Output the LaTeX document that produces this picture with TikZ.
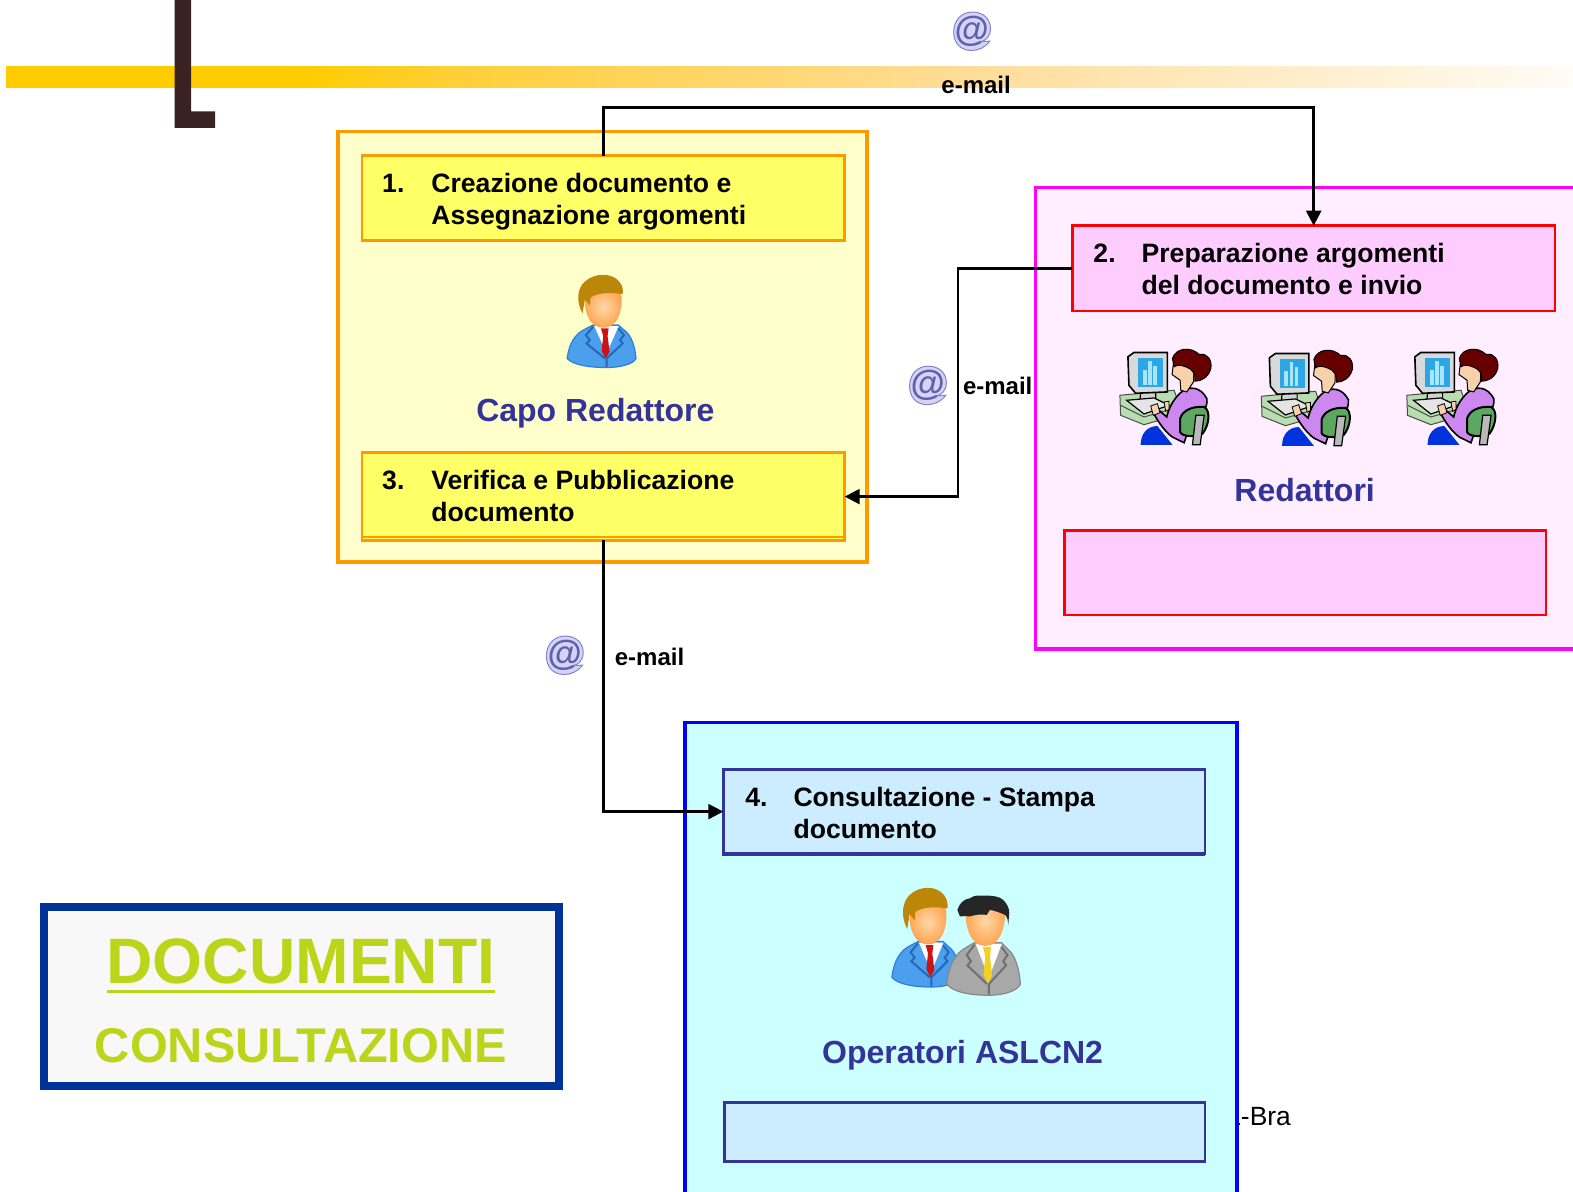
\documentclass[tikz,border=0pt]{standalone}
\usepackage{fontspec}
\setmainfont{Liberation Sans}
\usetikzlibrary{arrows.meta}
\def\px{0.5016pt}
\definecolor{orangeline}{HTML}{FF9900}
\definecolor{labelblue}{HTML}{333399}
\definecolor{lime}{HTML}{BBD61A}
\definecolor{hairbrown}{HTML}{BC8608}
\definecolor{bandgold}{HTML}{FFCC00}
\definecolor{bandmid}{HTML}{FFCF38}
\definecolor{bandpale}{HTML}{FFDD99}
\definecolor{bandend}{HTML}{FFFCF6}
\definecolor{ldark}{HTML}{3A2222}
\definecolor{capofill}{HTML}{FFFFCC}
\definecolor{magline}{HTML}{FF00FF}
\definecolor{redfill}{HTML}{FFEEFF}
\definecolor{opeline}{HTML}{0000FF}
\definecolor{opefill}{HTML}{CCFFFF}
\definecolor{yelbox}{HTML}{FFFF66}
\definecolor{pinkbox}{HTML}{FFCCFF}
\definecolor{bluebox}{HTML}{CCECFF}
\definecolor{docline}{HTML}{003399}
\definecolor{docfill}{HTML}{F8F8F8}
\definecolor{faceinner}{HTML}{FFD8A8}
\definecolor{faceouter}{HTML}{FFA450}
\definecolor{deskgreen}{HTML}{B8DDB0}
\definecolor{screenblue}{HTML}{2CA6E4}
\definecolor{barblue}{HTML}{A6E6FF}
\definecolor{legblue}{HTML}{0033DD}
\definecolor{sweater}{HTML}{CC88EE}
\definecolor{skin}{HTML}{F7D0AC}
\definecolor{hairred}{HTML}{660000}
\definecolor{chairgreen}{HTML}{5CA860}
\definecolor{atlight}{HTML}{D4D4F6}
\definecolor{atedge}{HTML}{8484C8}
\definecolor{atdark}{HTML}{6060AC}
\definecolor{jackblue}{HTML}{4C9FEC}
\definecolor{jackblueedge}{HTML}{2A7FDC}
\definecolor{tiered}{HTML}{CC1414}
\definecolor{lapelblue}{HTML}{2468B8}
\definecolor{jackgrey}{HTML}{A8A8A8}
\definecolor{jackgreyedge}{HTML}{888888}
\definecolor{tieyellow}{HTML}{F4D020}
\definecolor{lapelgrey}{HTML}{707070}
\pgfdeclarehorizontalshading{bandfade}{100bp}{color(0bp)=(bandgold); color(34.4bp)=(bandgold); color(39.35bp)=(bandmid); color(55.85bp)=(bandpale); color(75bp)=(bandend); color(100bp)=(bandend)}
\newcommand{\personbase}[4]{%
  \fill[#1,draw=#2,line width=1.2*\px] (82,295) .. controls (88,250) and (105,220) .. (140,205) -- (160,195) -- (235,195) -- (250,208) .. controls (275,225) and (285,260) .. (288,295) .. controls (280,312) and (240,322) .. (200,322) .. controls (150,322) and (100,315) .. (82,295) -- cycle;
  \fill[white] (163,198) -- (236,198) -- (200,280) -- cycle;
  \fill[#3] (183,205) -- (206,205) -- (203,228) -- (209,275) -- (197,295) -- (185,272) -- (190,228) -- cycle;
  \draw[#4,line width=2*\px] (160,200) -- (138,225) -- (150,240) -- (140,250) -- (195,295);
  \draw[#4,line width=2*\px] (235,205) -- (252,225) -- (240,240) -- (248,250) -- (200,295) -- (200,320);
  \shade[inner color=faceinner,outer color=faceouter] (135,110) .. controls (135,80) and (245,80) .. (245,110) .. controls (248,160) and (230,203) .. (190,203) .. controls (150,203) and (132,160) .. (135,110) -- cycle;
}
\tikzset{
  every node/.style={inner sep=0pt,outer sep=0pt},
  panel/.style={draw,rectangle,line width=3.6*\px},
  stepbox/.style={draw,rectangle,line width=2.6*\px,minimum width=481*\px},
  numtext/.style={anchor=base west,font=\fontsize{13.3}{16}\selectfont\bfseries},
  steptext/.style={anchor=north west,align=left,font=\fontsize{13.3}{16}\selectfont\bfseries},
  mailtext/.style={font=\fontsize{12}{14}\selectfont\bfseries},
  rolelabel/.style={text=labelblue,font=\fontsize{16}{19}\selectfont\bfseries},
  link/.style={draw=black,line width=2.4*\px,-{Triangle[length=15*\px,width=15*\px]}},
  manblue/.pic={
    \begin{scope}[scale=1/3]
      \personbase{jackblue}{jackblueedge}{tiered}{lapelblue}
      \fill[hairbrown] (128,160) .. controls (108,125) and (112,85) .. (135,65) .. controls (165,38) and (215,38) .. (238,65) .. controls (248,78) and (250,90) .. (248,103) .. controls (225,98) and (180,95) .. (152,112) -- (150,136) -- (135,118) -- cycle;
    \end{scope}
  },
  mangrey/.pic={
    \begin{scope}[scale=1/3]
      \personbase{jackgrey}{jackgreyedge}{tieyellow}{lapelgrey}
      \fill[black!85] (112,116) .. controls (118,100) and (130,90) .. (147,88) .. controls (160,80) and (170,82) .. (175,82) .. controls (205,80) and (232,84) .. (240,92) .. controls (252,102) and (258,115) .. (257,124) -- (254,152) .. controls (254,140) and (250,132) .. (245,128) .. controls (230,122) and (215,118) .. (203,116) -- (194,128) .. controls (175,126) and (160,128) .. (147,132) .. controls (135,130) and (122,132) .. (119,132) -- cycle;
    \end{scope}
  },
  womanpc/.pic={
    \begin{scope}[scale=1/3]
      \fill[deskgreen,draw=black!70,line width=1*\px] (58,180) -- (220,165) -- (245,235) -- (130,268) -- (60,240) -- cycle;
      \draw[black!70,line width=1*\px] (60,210) -- (130,245) -- (235,215);
      \fill[gray!35,draw=black,line width=1.2*\px] (120,170) -- (165,170) -- (165,190) -- (118,196) -- cycle;
      \fill[gray!20,draw=black,line width=1.2*\px] (78,195) -- (160,188) -- (205,210) -- (130,236) -- cycle;
      \fill[gray!30,draw=black,line width=1.6*\px] (82,65) -- (100,52) -- (200,52) -- (200,170) -- (105,174) -- (85,150) -- cycle;
      \fill[screenblue] (113,68) -- (188,68) -- (188,155) -- (113,155) -- cycle;
      \fill[barblue] (126,105) rectangle (138,150);
      \fill[barblue] (143,78) rectangle (153,150);
      \fill[barblue] (158,92) rectangle (168,150);
      \fill[legblue] (120,328) .. controls (120,295) and (140,272) .. (170,272) -- (215,328) -- cycle;
      \fill[sweater,draw=black,line width=1.6*\px] (240,172) .. controls (265,150) and (300,155) .. (318,190) .. controls (322,220) and (300,240) .. (270,262) -- (250,322) -- (215,305) .. controls (195,290) and (175,265) .. (158,232) -- (175,225) -- (198,245) .. controls (205,215) and (220,190) .. (240,172) -- cycle;
      \fill[skin,draw=black,line width=1*\px] (218,85) -- (280,95) -- (278,140) -- (258,170) -- (240,165) -- (238,135) -- (214,118) -- cycle;
      \fill[hairred,draw=black,line width=1*\px] (215,70) .. controls (225,38) and (270,33) .. (295,58) .. controls (320,53) and (334,75) .. (330,100) .. controls (322,128) and (300,138) .. (282,138) .. controls (285,118) and (275,100) .. (255,95) .. controls (240,88) and (225,90) .. (220,95) -- cycle;
      \fill[skin,draw=black,line width=.8*\px] (150,212) -- (170,205) -- (178,232) -- (158,240) -- cycle;
      \fill[skin,draw=black,line width=.8*\px] (190,200) -- (205,198) -- (205,222) -- (195,228) -- cycle;
      \fill[chairgreen,draw=black,line width=2*\px] (238,250) .. controls (245,225) and (275,212) .. (310,215) .. controls (330,225) and (325,270) .. (305,295) .. controls (285,305) and (245,305) .. (238,290) -- cycle;
      \fill[gray!55,draw=black,line width=1.2*\px] (285,240) -- (310,240) -- (298,328) -- (275,328) -- cycle;
    \end{scope}
  },
  atring/.pic={
    \begin{scope}[scale=1/3,shift={(-277,-92)}]
      \fill[atlight,draw=atedge,line width=1*\px] (330,122) .. controls (315,142) and (295,150) .. (275,150) .. controls (240,150) and (222,125) .. (222,95) .. controls (222,60) and (245,35) .. (278,35) .. controls (310,35) and (332,55) .. (332,85) .. controls (332,110) and (315,122) .. (300,124) -- cycle;
    \end{scope}
  },
  attext/.style={text=atdark,font=\fontsize{17.5}{18}\selectfont\bfseries\itshape},
}
\begin{document}
\begin{tikzpicture}[x=0.5016pt,y=-0.5016pt]
\useasboundingbox (0,0) rectangle (1568,1187.3);
\clip (0,0) rectangle (1568,1187.3);
% header band
\shade[shading=bandfade] (6,66) rectangle (1568,87.7);
\fill[ldark] (174,0) -- (190.5,0) -- (190.5,111) -- (214.5,111) -- (214.5,127.5) -- (174,127.5) -- cycle;
% stray text, under the panel
\fill[black] (1234.5,1119) rectangle (1236.5,1121);
\node[anchor=base west,font=\fontsize{13.2}{15}\selectfont] (bra) at (1237,1122) {-Bra};
% panels
\node[panel,draw=orangeline,fill=capofill,minimum width=527*\px,minimum height=429*\px] (capo) at (600.5,345.5) {};
\node[panel,draw=magline,fill=redfill,minimum width=580*\px,minimum height=460*\px] (red) at (1322,417) {};
\node[panel,draw=opeline,fill=opefill,minimum width=550*\px,minimum height=480*\px] (ope) at (958,960) {};
% step boxes
\node[stepbox,draw=orangeline,fill=yelbox,minimum height=85*\px] (b1) at (601.5,197.5) {};
\node[stepbox,draw=orangeline,fill=yelbox,minimum height=87.5*\px] (b3) at (601.5,495) {};
\draw[orangeline,line width=1.5*\px] (b3.south west) ++(0,-3.5) -- ++(481,0);
\node[stepbox,draw=red,fill=pinkbox,minimum height=85*\px] (b2) at (1309.5,267.5) {};
\node[stepbox,draw=red,fill=pinkbox,minimum width=480*\px,minimum height=84*\px] (e2) at (1301,571) {};
\node[stepbox,draw=labelblue,fill=bluebox,minimum width=480*\px,minimum height=84*\px] (b4) at (961,809) {};
\draw[labelblue,line width=3.6*\px] (b4.north west) -- (b4.south west) -- (b4.south east);
\node[stepbox,draw=labelblue,fill=bluebox,minimum width=479*\px,minimum height=59*\px] (e4) at (961.5,1128.5) {};
% step texts
\node[numtext] (n1) at (381,192) {1.};
\node[steptext] (t1) at (430,173) {Creazione documento e\\Assegnazione argomenti};
\node[numtext] (n3) at (381,488) {3.};
\node[steptext] (t3) at (430,469) {Verifica e Pubblicazione\\documento};
\node[numtext] (n2) at (1090,262) {2.};
\node[steptext] (t2) at (1138,242.5) {Preparazione argomenti\\del documento e invio};
\node[numtext] (n4) at (743,804) {4.};
\node[steptext] (t4) at (791,785) {Consultazione - Stampa\\documento};
% connectors
\draw[link] (b1.north) -- ++(0,-48) -| (b2.north);
\draw[link] (b2.west) -- ++(-114,0) |- (b3.east);
\draw[link] (b3.south) |- (b4.west);
% mail labels
\node[mailtext] (m1) at (973,85) {e-mail};
\node[mailtext] (m2) at (994.5,385) {e-mail};
\node[mailtext] (m3) at (647.5,655) {e-mail};
\pic at (969,31) {atring};
\pic at (925,384) {atring};
\pic at (563,653) {atring};
\node[attext] (a1) at (968.5,31) {@};
\node[attext] (a2) at (924.5,384) {@};
\node[attext] (a3) at (562.5,653) {@};
% role labels
\node[rolelabel] (l1) at (593.5,412) {Capo Redattore};
\node[rolelabel] (l2) at (1300.5,488) {Redattori};
\node[rolelabel] (l3) at (959.5,1052) {Operatori ASLCN2};
% icons
\pic at (538,259) {manblue};
\pic at (1097,334) {womanpc};
\pic at (1238,335) {womanpc};
\pic at (1383,334) {womanpc};
\pic[yscale=1.07] at (861.7,869) {manblue};
\pic[xscale=1.07,yscale=1.24] at (914.4,859) {mangrey};
% title box
\node[draw=docline,line width=8*\px,fill=docfill,rectangle,minimum width=513*\px,minimum height=179*\px] (doc) at (300.5,993.5) {};
\node[text=lime,font=\fontsize{32.1}{36}\selectfont\bfseries] (d1) at (300,958) {DOCUMENTI};
\draw[lime,line width=3*\px] (107,988.5) -- (493,988.5);
\node[text=lime,font=\fontsize{24.35}{28}\selectfont\bfseries] (d2) at (300,1042) {CONSULTAZIONE};
\end{tikzpicture}
\end{document}
